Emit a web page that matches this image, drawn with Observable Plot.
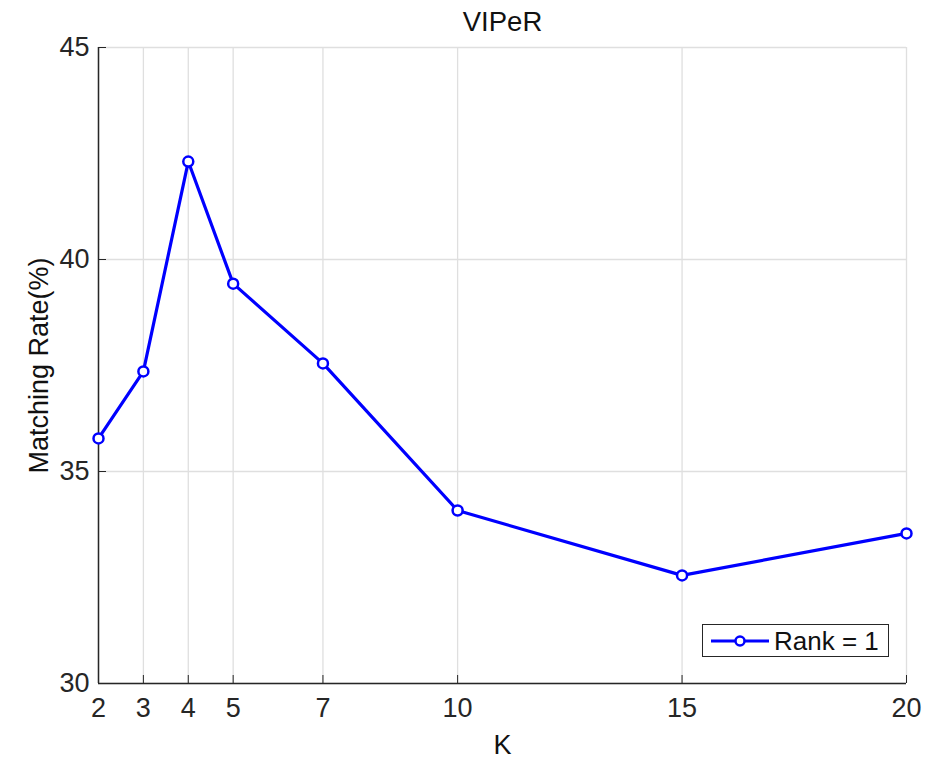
<!DOCTYPE html>
<html>
<head>
<meta charset="utf-8">
<script src="https://cdn.jsdelivr.net/npm/d3@7"></script>
<script src="https://cdn.jsdelivr.net/npm/@observablehq/plot@0.6"></script>
<style>
  body { margin: 0; background: white; }
  #wrap { position: relative; width: 952px; height: 768px; font-family: 'Liberation Sans', Arial, sans-serif; }
  #legend { position: absolute; left: 702px; top: 624px; width: 185px; height: 31px; border: 1px solid #262626; background: white; }
</style>
</head>
<body>
<div id="wrap"></div>
<script>
const K = [2, 3, 4, 5, 7, 10, 15, 20];
const rate = [35.78, 37.36, 42.31, 39.43, 37.55, 34.08, 32.55, 33.54];
const xTicks = [2, 3, 4, 5, 7, 10, 15, 20];
const yTicks = [30, 35, 40, 45];
const title = "VIPeR";
const xLabel = "K";
const yLabel = "Matching Rate(%)";
const seriesName = "Rank = 1";

const data = K.map((k, i) => ({k, r: rate[i]}));
const dark = "#262626";
const grid = "#dfdfdf";
const blue = "#0000ff";
const fsTick = 27;
const fsLabel = 27;
const fsTitle = 27.5;

const chart = Plot.plot({
  width: 952,
  height: 768,
  marginLeft: 98,
  marginRight: 46,
  marginTop: 47,
  marginBottom: 85,
  x: {domain: [2, 20]},
  y: {domain: [30, 45]},
  style: {fontFamily: "'Liberation Sans', Arial, sans-serif", fontSize: fsTick + "px", color: dark, background: "white", overflow: "visible"},
  marks: [
    Plot.gridX(xTicks, {stroke: grid, strokeOpacity: 1, strokeWidth: 1.3}),
    Plot.gridY(yTicks, {stroke: grid, strokeOpacity: 1, strokeWidth: 1.3}),
    Plot.axisX(xTicks, {tickSize: 0, tickPadding: 14, fontSize: fsTick, tickFormat: d => String(d), label: null, fill: dark}),
    Plot.axisX({label: xLabel, ticks: [], tickSize: 0, labelAnchor: "center", labelOffset: 70, labelArrow: "none", fontSize: fsLabel, fill: "#111"}),
    Plot.axisX(xTicks, {tickSize: 8, text: null, label: null, dy: -8, stroke: dark}),
    Plot.axisY(yTicks, {tickSize: 0, tickPadding: 9, fontSize: fsTick, tickFormat: d => String(d), label: null, fill: dark}),
    Plot.axisY({label: yLabel, ticks: [], tickSize: 0, labelAnchor: "center", labelOffset: 70, labelArrow: "none", fontSize: fsLabel, fill: "#111"}),
    Plot.axisY(yTicks, {tickSize: 8, text: null, label: null, dx: 8, stroke: dark}),
    Plot.ruleY([30], {stroke: dark, strokeWidth: 1.5}),
    Plot.ruleX([2], {stroke: dark, strokeWidth: 1.5}),
    Plot.line(data, {x: "k", y: "r", stroke: blue, strokeWidth: 3.2}),
    Plot.dot(data, {x: "k", y: "r", r: 5, stroke: blue, strokeWidth: 2.5, fill: "white"}),
    Plot.text([title], {frameAnchor: "top", lineAnchor: "middle", dy: -25, fontSize: fsTitle, fill: "#111"})
  ]
});
const wrap = document.getElementById("wrap");
wrap.appendChild(chart);

const legend = document.createElement("div");
legend.id = "legend";
legend.innerHTML = `<svg width="185" height="31" style="position:absolute;left:0;top:0">
  <line x1="8" x2="66" y1="16" y2="16" stroke="${blue}" stroke-width="3.2"/>
  <circle cx="37" cy="16" r="4.5" stroke="${blue}" stroke-width="2.5" fill="white"/>
  <text x="71" y="16" dy="0.36em" font-size="26" fill="#111" font-family="'Liberation Sans', Arial, sans-serif">${seriesName}</text>
</svg>`;
wrap.appendChild(legend);
</script>
</body>
</html>
